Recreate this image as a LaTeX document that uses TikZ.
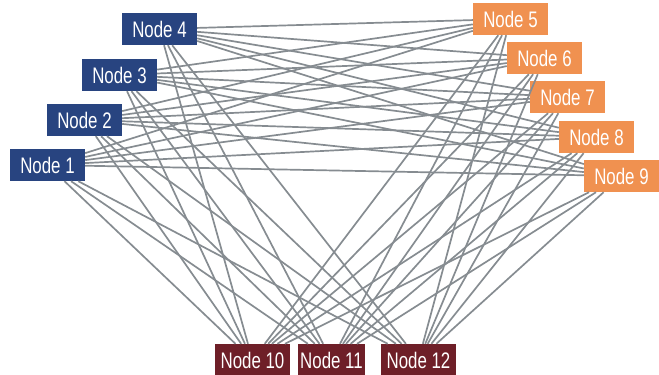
\documentclass[tikz,border=0pt]{standalone}
\usepackage{fontspec}
\newfontfamily\nodefont[FakeStretch=0.75]{Liberation Sans}
\definecolor{nblue}{RGB}{40,68,128}
\definecolor{norange}{RGB}{240,145,80}
\definecolor{nred}{RGB}{110,31,40}
\definecolor{edgegray}{RGB}{134,140,145}
\begin{document}
\begin{tikzpicture}[x=1pt,y=-1pt,
  box/.style={rectangle, inner sep=0pt, minimum width=75pt, minimum height=32pt,
    text=white, font=\nodefont\fontsize{22.5}{22.5}\selectfont},
  bluebox/.style={box, fill=nblue},
  orangebox/.style={box, fill=norange},
  redbox/.style={box, fill=nred},
  edge/.style={draw=edgegray, line width=1.7pt}]
\useasboundingbox (0,0) rectangle (659,375);
\node[bluebox] (n4) at (159.5,29) {Node 4};
\node[bluebox] (n3) at (119.5,75) {Node 3};
\node[bluebox] (n2) at (84.5,120) {Node 2};
\node[bluebox] (n1) at (47.5,165) {Node 1};
\node[orangebox] (n5) at (510.5,19) {Node 5};
\node[orangebox] (n6) at (544.5,58) {Node 6};
\node[orangebox] (n7) at (567.5,97) {Node 7};
\node[orangebox] (n8) at (596.5,137) {Node 8};
\node[orangebox] (n9) at (621.5,176) {Node 9};
\node[redbox] (n10) at (252.5,360) {Node 10};
\node[redbox, minimum width=67pt] (n11) at (331.5,360) {Node 11};
\node[redbox] (n12) at (418.5,360) {Node 12};
\foreach \a in {n1,n2,n3,n4}{
  \foreach \b in {n5,n6,n7,n8,n9,n10,n11,n12}{
    \draw[edge] (\a) -- (\b);
  }
}
\foreach \a in {n5,n6,n7,n8,n9}{
  \foreach \b in {n10,n11,n12}{
    \draw[edge] (\a) -- (\b);
  }
}
\end{tikzpicture}
\end{document}
